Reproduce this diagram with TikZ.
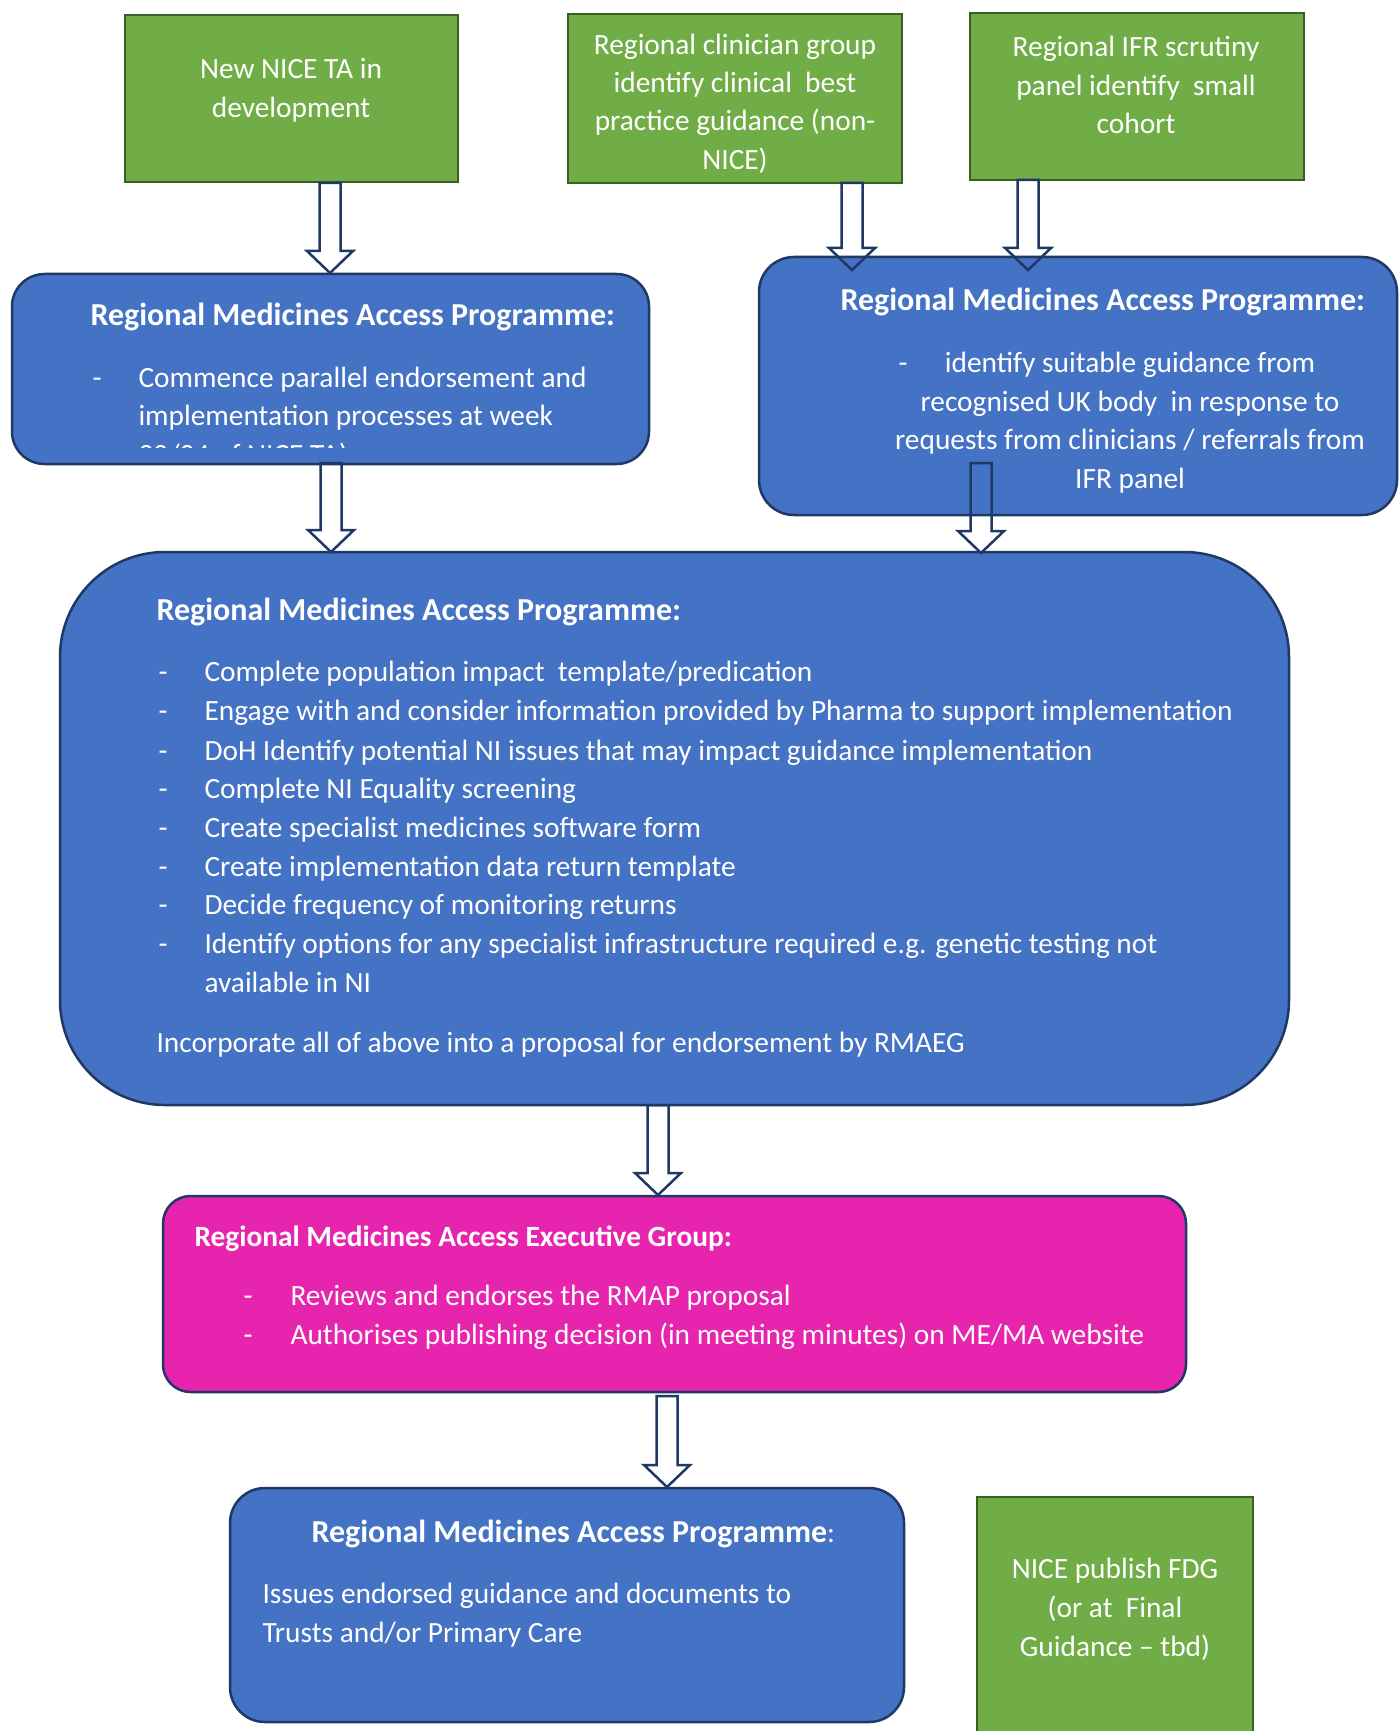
\documentclass[tikz,border=0pt]{standalone}
\usepackage{fontspec}
\setmainfont{Carlito}
\usetikzlibrary{calc}
\definecolor{gfill}{HTML}{70AD47}
\definecolor{gline}{HTML}{3A5F24}
\definecolor{bfill}{HTML}{4472C4}
\definecolor{bline}{HTML}{1F3864}
\definecolor{pfill}{HTML}{E624AD}
\newcommand\blockarr[2]{%
  \draw[arr] ($(#1)+(-10.5,0)$) -- ($(#2)+(-10.5,-22)$) -- ($(#2)+(-23,-22)$) -- (#2)
   -- ($(#2)+(23,-22)$) -- ($(#2)+(10.5,-22)$) -- ($(#1)+(10.5,0)$) -- cycle;}
\begin{document}
\begin{tikzpicture}[x=0.4pt,y=-0.4pt,
  greenbox/.style={fill=gfill, draw=gline, line width=1pt},
  bluebox/.style={fill=bfill, draw=bline, line width=1pt},
  pinkbox/.style={fill=pfill, draw=bline, line width=1pt},
  txt/.style={text=white, font=\fontsize{11.75}{14}\selectfont, inner sep=0pt, yshift=-0.7pt},
  hd/.style={text=white, font=\fontsize{12.8}{15}\selectfont\bfseries, inner sep=0pt, yshift=-0.7pt},
  hdp/.style={text=white, font=\fontsize{11.75}{14}\selectfont\bfseries, inner sep=0pt, yshift=-0.7pt},
  arr/.style={draw=bline, line width=1pt, line join=miter}]
\clip (0,0) rectangle (1399,1731);
\fill[white] (0,0) rectangle (1399,1731);

% boxes
\draw[greenbox] (125,15) rectangle (458,182);
\draw[greenbox] (568,14) rectangle (902,183);
\draw[greenbox] (970,13) rectangle (1304,180);
\draw[bluebox, rounded corners=13pt] (12,274) rectangle (649,464);
\draw[bluebox, rounded corners=14pt] (759,257) rectangle (1397,515);
\draw[bluebox, rounded corners=42pt] (60,552) rectangle (1289,1105);
\draw[pinkbox, rounded corners=11pt] (163,1196) rectangle (1186,1392);
\draw[bluebox, rounded corners=14pt] (230,1488) rectangle (904,1722);
\draw[greenbox] (977,1497) rectangle (1253,1745);

% green 1
\node[txt, anchor=base] (g1a) at (291,77) {New NICE TA in};
\node[txt, anchor=base] (g1b) at (291,116) {development};
% green 2
\node[txt, anchor=base] (g2a) at (735,53) {Regional clinician group};
\node[txt, anchor=base] (g2b) at (735,91) {identify clinical\ \ best};
\node[txt, anchor=base] (g2c) at (735,129) {practice guidance (non-};
\node[txt, anchor=base] (g2d) at (735,168) {NICE)};
% green 3
\node[txt, anchor=base] (g3a) at (1136,55) {Regional IFR scrutiny};
\node[txt, anchor=base] (g3b) at (1136,94) {panel identify\ \ small};
\node[txt, anchor=base] (g3c) at (1136,132) {cohort};

% blue 1
\node[hd, anchor=base west] (b1h) at (90,324) {Regional Medicines Access Programme:};
\node[txt, anchor=base west] (b1d) at (92,386) {-};
\node[txt, anchor=base west] (b1a) at (138,386) {Commence parallel endorsement and};
\node[txt, anchor=base west] (b1b) at (138,424) {implementation processes at week};
\begin{scope}
\clip (12,274) rectangle (649,448);
\node[txt, anchor=base west] (b1c) at (138,463) {20/24 of NICE TA)};
\end{scope}

% blue 2
\node[hd, anchor=base west] (b2h) at (840,309) {Regional Medicines Access Programme:};
\node[txt, anchor=base west] (b2d) at (898,371) {-};
\node[txt, anchor=base] (b2a) at (1130,371) {identify suitable guidance from};
\node[txt, anchor=base] (b2b) at (1130,410) {recognised UK body\ \ in response to};
\node[txt, anchor=base] (b2c) at (1130,448) {requests from clinicians / referrals from};
\node[txt, anchor=base] (b2e) at (1130,487) {IFR panel};

% big box
\node[hd, anchor=base west] (bh) at (156,619) {Regional Medicines Access Programme:};
\foreach \yy/\tt [count=\i] in {680/{Complete population impact\ \ template/predication},
  719/{Engage with and consider information provided by Pharma to support implementation},
  759/{DoH Identify potential NI issues that may impact guidance implementation},
  797/{Complete NI Equality screening},
  836/{Create specialist medicines software form},
  875/{Create implementation data return template},
  913/{Decide frequency of monitoring returns},
  952/{Identify options for any specialist infrastructure required e.g. genetic testing not}}{
  \node[txt, anchor=base west] (bd\i) at (158,\yy) {-};
  \node[txt, anchor=base west] (bl\i) at (204,\yy) {\tt};
}
\node[txt, anchor=base west] (bl9) at (204,991) {available in NI};
\node[txt, anchor=base west] (bi) at (156,1051) {Incorporate all of above into a proposal for endorsement by RMAEG};

% pink
\node[hdp, anchor=base west] (ph) at (194,1245) {Regional Medicines Access Executive Group:};
\node[txt, anchor=base west] (pd1) at (243,1304) {-};
\node[txt, anchor=base west] (pa) at (290,1304) {Reviews and endorses the RMAP proposal};
\node[txt, anchor=base west] (pd2) at (243,1343) {-};
\node[txt, anchor=base west] (pb) at (290,1343) {Authorises publishing decision (in meeting minutes) on ME/MA website};

% bottom blue
\node[txt, anchor=base west] (eh) at (311,1541) {{\fontsize{12.8}{15}\selectfont\bfseries Regional Medicines Access Programme}:};
\node[txt, anchor=base west] (ea) at (262,1602) {Issues endorsed guidance and documents to};
\node[txt, anchor=base west] (eb) at (262,1641) {Trusts and/or Primary Care};

% green 4
\node[txt, anchor=base] (g4a) at (1115,1577) {NICE publish FDG};
\node[txt, anchor=base] (g4b) at (1115,1616) {(or at\ \ Final};
\node[txt, anchor=base] (g4c) at (1115,1655) {Guidance – tbd)};

% arrows
\coordinate (a1s) at (330,183);  \coordinate (a1e) at (330,273);
\coordinate (a2s) at (852,183);  \coordinate (a2e) at (852,270);
\coordinate (a3s) at (1028,180); \coordinate (a3e) at (1028,270);
\coordinate (a4s) at (331,463);  \coordinate (a4e) at (331,552);
\coordinate (a5s) at (981,463);  \coordinate (a5e) at (981,553);
\coordinate (a6s) at (658,1105); \coordinate (a6e) at (658,1195);
\coordinate (a7s) at (667,1396); \coordinate (a7e) at (667,1487);
\blockarr{a1s}{a1e}
\blockarr{a2s}{a2e}
\blockarr{a3s}{a3e}
\blockarr{a4s}{a4e}
\blockarr{a5s}{a5e}
\blockarr{a6s}{a6e}
\blockarr{a7s}{a7e}
\end{tikzpicture}
\end{document}
